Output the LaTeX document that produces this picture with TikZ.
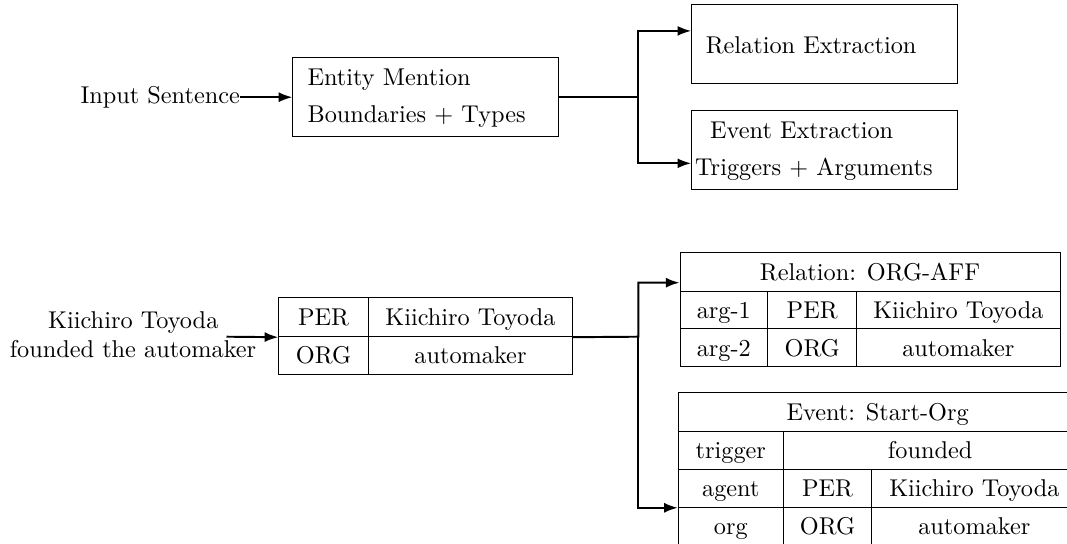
\documentclass[tikz,border=0pt]{standalone}
\usetikzlibrary{arrows.meta}
\newcommand{\tabcell}[6]{%
  \node[cell,minimum width={(#3-#1)*0.4115pt},minimum height={(#4-#2)*0.4115pt}]
    (#5) at ({(#1+#3)/2},{(#2+#4)/2}) {#6};}
\begin{document}
\begin{tikzpicture}[x=0.4115pt,y=-0.4115pt,
  box/.style={draw,line width=0.45pt,minimum width=109.46pt,minimum height=32.7pt,inner sep=0pt},
  txt/.style={inner sep=0pt,anchor=base west},
  plain/.style={inner sep=0pt,anchor=base},
  cell/.style={draw,line width=0.4pt,inner sep=0pt,text height=8.8pt,text depth=2pt},
  arr/.style={line width=0.8pt,-{Latex[length=5.6pt,width=4.1pt]}}]
\useasboundingbox (0,0) rectangle (1067,543);
\clip (0,0) rectangle (1067,543);

% ---------- top pipeline ----------
\node[anchor=east,inner sep=0pt] (in) at (240.4,97.2) {Input Sentence};
\node[box] (ebox) at (425.9,97.2) {};
\node[txt] (et1) at (307.1,85) {Entity Mention};
\node[txt] (et2) at (307.1,122.7) {Boundaries + Types};
\node[box] (rbox) at (824.7,43.8) {};
\node[txt] (rt1) at (705.3,53.3) {Relation Extraction};
\node[box] (vbox) at (824.7,150.2) {};
\node[txt] (vt1) at (709.7,138.3) {Event Extraction};
\node[txt] (vt2) at (694.7,175.7) {Triggers + Arguments};

\coordinate (j1) at (638.3,97.2);
\draw[arr] (in.east) -- (ebox.west);
\draw[arr] (ebox.east) -- (j1) |- ([yshift=5.3pt]rbox.west);
\draw[arr] (j1) |- ([yshift=-5.4pt]vbox.west);

% ---------- bottom example ----------
\node[plain] (s1) at (133.3,328.3) {Kiichiro Toyoda};
\node[plain] (s2) at (133,357.3) {founded the automaker};
\coordinate (s0) at (226.5,336.7);

% entity table
\tabcell{278.8}{297.7}{368.2}{336.7}{e11}{PER}
\tabcell{368.2}{297.7}{572.7}{336.7}{e12}{Kiichiro Toyoda}
\tabcell{278.8}{336.7}{368.2}{374.3}{e21}{ORG}
\tabcell{368.2}{336.7}{572.7}{374.3}{e22}{automaker}

% relation table
\tabcell{680}{252.7}{1060}{291}{rh}{Relation: ORG-AFF}
\tabcell{680}{291}{767.7}{328.9}{r11}{arg-1}
\tabcell{767.7}{291}{856.7}{328.9}{r12}{PER}
\tabcell{856.7}{291}{1060}{328.9}{r13}{Kiichiro Toyoda}
\tabcell{680}{328.9}{767.7}{366.7}{r21}{arg-2}
\tabcell{767.7}{328.9}{856.7}{366.7}{r22}{ORG}
\tabcell{856.7}{328.9}{1060}{366.7}{r23}{automaker}

% event table
\tabcell{678.3}{392.7}{1077}{431}{vh}{Event: Start-Org}
\tabcell{678.3}{431}{783.3}{469.3}{v11}{trigger}
\tabcell{783.3}{431}{1077}{469.3}{v12}{founded}
\tabcell{678.3}{469.3}{783.3}{507.3}{v21}{agent}
\tabcell{783.3}{469.3}{871.7}{507.3}{v22}{PER}
\tabcell{871.7}{469.3}{1077}{507.3}{v23}{Kiichiro Toyoda}
\tabcell{678.3}{507.3}{783.3}{545.5}{v31}{org}
\tabcell{783.3}{507.3}{871.7}{545.5}{v32}{ORG}
\tabcell{871.7}{507.3}{1077}{545.5}{v33}{automaker}

\coordinate (j2) at (638.3,336.7);
\draw[arr] (s0) -- (e11.south west);
\draw[arr] (e12.south east) -- (j2) |- ([yshift=-4.46pt]rh.west);
\draw[arr] (j2) |- (v21.south west);
\end{tikzpicture}
\end{document}
